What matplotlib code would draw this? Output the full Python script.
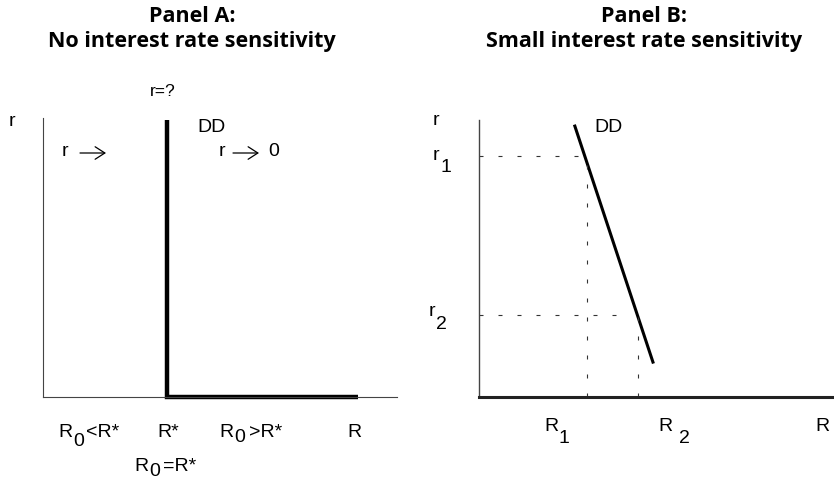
import matplotlib
matplotlib.use("Agg")
import matplotlib.pyplot as plt

W, H = 834, 481
DPI = 100

# ---- data (schematic units) ----
# Panel A: vertical demand at R*, then flat along axis
a_dd_x = [3.5, 3.5, 8.9]
a_dd_y = [9.93, 0.0, 0.0]
# Panel B: downward sloping demand
b_dd_x = [2.7, 4.9]
b_dd_y = [9.78, 1.26]
b_r_levels = [8.7, 2.96]      # r1, r2
b_R_levels = [3.05, 4.48]     # R1, R2
b_dash_end_x = [2.98, 4.0]    # horizontal dashed guide ends
b_titles = ["Panel A:\nNo interest rate sensitivity",
            "Panel B:\nSmall interest rate sensitivity"]

FONT = "Liberation Sans"
FS = 14

fig = plt.figure(figsize=(W / DPI, H / DPI), dpi=DPI)

def frac(x, y):
    return x / W, 1 - y / H

def add_axes(x0, y0, x1, y1):
    return fig.add_axes([x0 / W, 1 - y1 / H, (x1 - x0) / W, (y1 - y0) / H])

def txt(x, y, s, size=FS, ha="center", **kw):
    fx, fy = frac(x, y)
    fig.text(fx, fy, s, ha=ha, va="center", fontsize=size,
             family=FONT, color="black", **kw)

def sub(x, y, base, subs, dx=11, dy=10, tail=None, tail_x=None):
    txt(x, y, base)
    txt(x + dx, y + dy, subs)
    if tail is not None:
        txt(tail_x, y, tail, ha="left")

# ---------- Panel A ----------
axA = add_axes(43, 119, 397, 398)
axA.set_xlim(0, 10)
axA.set_ylim(0, 10)
for s in ["top", "right"]:
    axA.spines[s].set_visible(False)
for s in ["left", "bottom"]:
    axA.spines[s].set_linewidth(0.8)
    axA.spines[s].set_color("#444444")
axA.set_xticks([])
axA.set_yticks([])
axA.plot(a_dd_x, a_dd_y, color="black", lw=3.2, solid_capstyle="butt",
         solid_joinstyle="miter", clip_on=False)

# ---------- Panel B ----------
axB = add_axes(479, 121, 834, 398)
axB.set_xlim(0, 10)
axB.set_ylim(0, 10)
for s in ["top", "right"]:
    axB.spines[s].set_visible(False)
axB.spines["left"].set_linewidth(1.0)
axB.spines["left"].set_color("#444444")
axB.spines["bottom"].set_linewidth(2.2)
axB.spines["bottom"].set_color("#222222")
axB.set_xticks([])
axB.set_yticks([])
axB.plot(b_dd_x, b_dd_y, color="black", lw=2.2, clip_on=False)
dash = (0, (3.6, 13.5))
for rl, xe in zip(b_r_levels, b_dash_end_x):
    axB.plot([0, xe], [rl, rl], color="#333333", lw=0.8, linestyle=dash)
for rl, xl in zip(b_r_levels, b_R_levels):
    axB.plot([xl, xl], [0, rl], color="#333333", lw=0.8, linestyle=dash)

# ---------- Titles ----------
for cx, t in zip([192, 644], b_titles):
    fx, fy = frac(cx, 29)
    fig.text(fx, fy, t, ha="center", va="center", fontsize=15.5,
             family="Open Sans", weight="bold", linespacing=1.22)

# ---------- Panel A labels ----------
txt(12, 122, "r")
txt(163, 91, "r=?", size=12.5)
txt(197, 127, "DD", ha="left")
txt(65, 152, "r")
txt(222, 151, "r")
txt(274, 152, "0")
for x0, x1, y in [(80, 106, 154), (233, 259, 154)]:
    axA.annotate("", xy=frac(x1, y), xytext=frac(x0, y),
                 xycoords="figure fraction", textcoords="figure fraction",
                 arrowprops=dict(arrowstyle="->,head_length=0.7,head_width=0.45",
                                 lw=0.9, color="black", shrinkA=0, shrinkB=0))

sub(65, 433, "R", "0", dx=14, dy=9, tail="<R*", tail_x=86)
txt(168, 433, "R*")
sub(226, 433, "R", "0", dx=14, dy=5, tail=">R*", tail_x=249)
txt(354, 433, "R")
sub(141, 467, "R", "0", dx=14, dy=5, tail="=R*", tail_x=163)

# ---------- Panel B labels ----------
txt(436, 121, "r")
sub(436, 155, "r", "1", dx=10, dy=13)
sub(432, 312, "r", "2", dx=9, dy=13)
txt(594, 128, "DD", ha="left")
sub(551, 427, "R", "1", dx=13, dy=12)
sub(665, 427, "R", "2", dx=19, dy=12)
txt(822, 427, "R")

fig.savefig("out.png", dpi=DPI)
